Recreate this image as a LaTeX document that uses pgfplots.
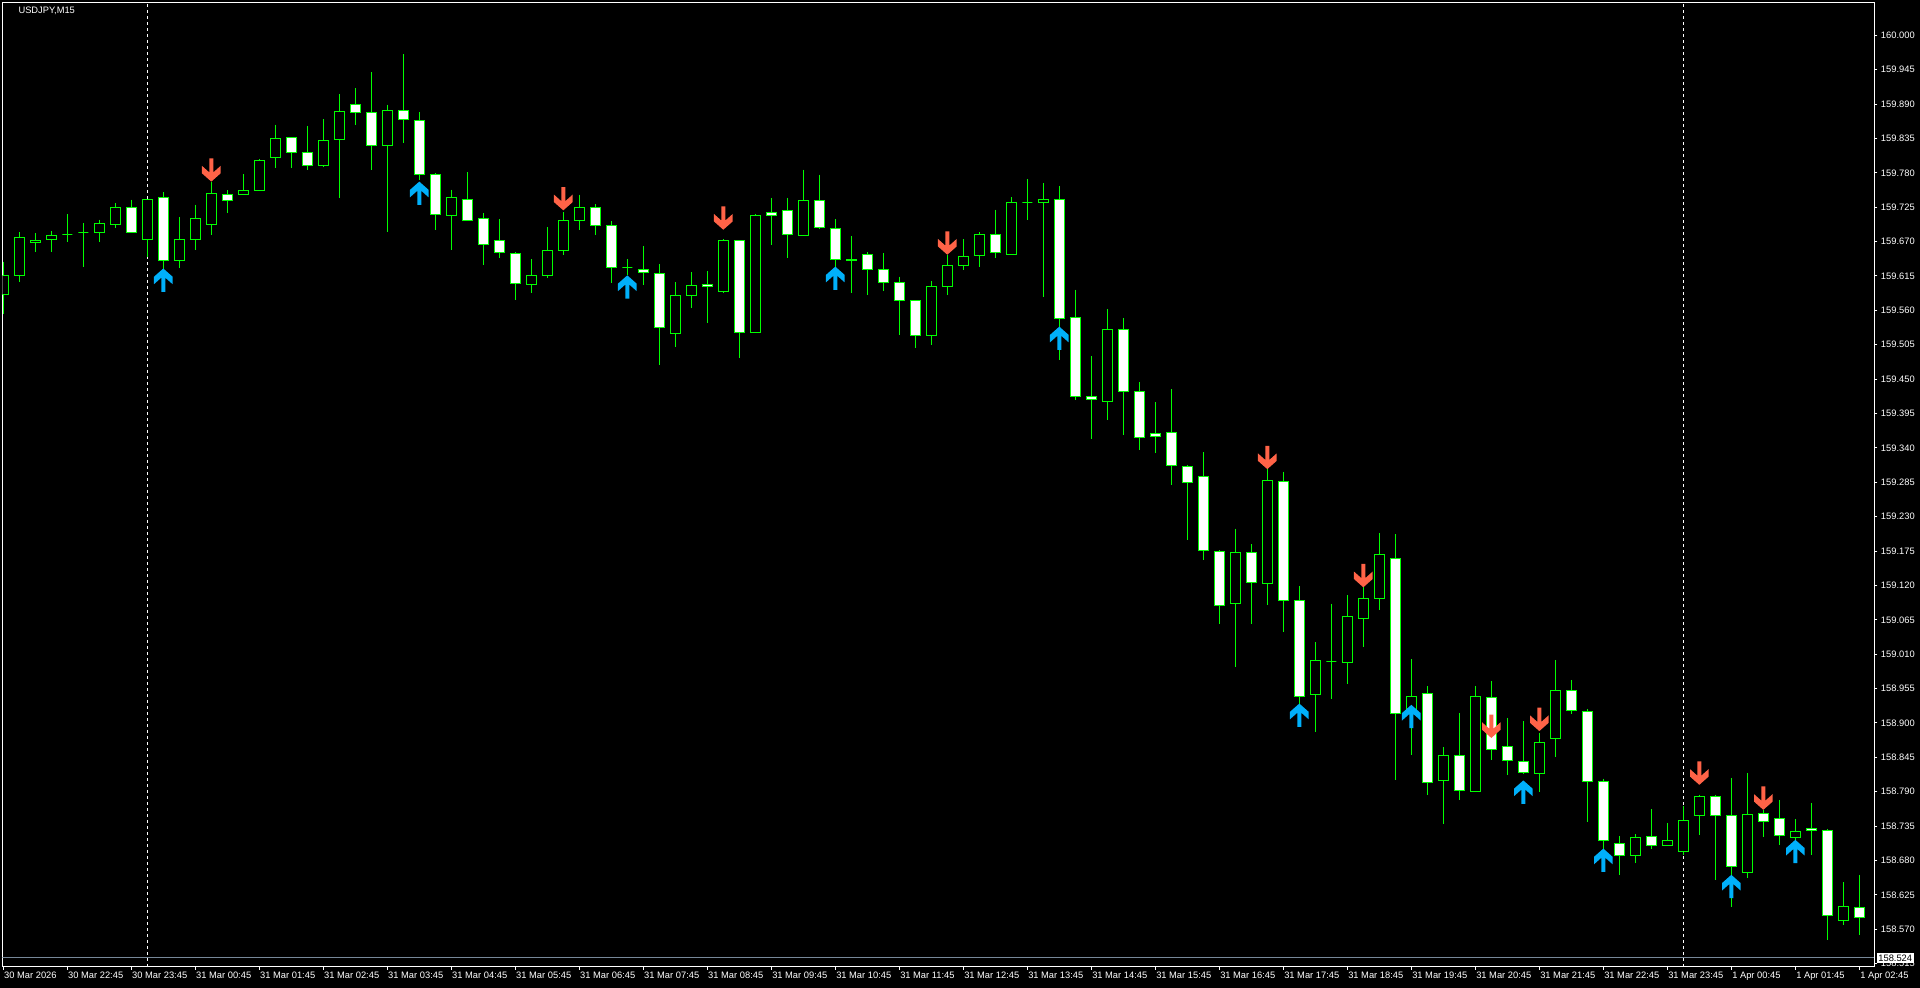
\documentclass[border=0pt]{standalone}
\usepackage{fontspec}
\setmainfont{Liberation Sans}
\usepackage{pgfplots}
\pgfplotsset{compat=1.18}
\usepackage{pgfplotstable}

\definecolor{candle}{RGB}{0,255,0}
\definecolor{arrred}{RGB}{255,99,71}
\definecolor{arrblue}{RGB}{0,176,250}
\definecolor{bidgray}{RGB}{119,136,153}

% down arrow, tip at the data point
\pgfdeclareplotmark{arrdn}{%
  \pgfpathmoveto{\pgfpoint{0pt}{0pt}}%
  \pgfpathlineto{\pgfpoint{7pt}{6.2pt}}%
  \pgfpathlineto{\pgfpoint{7pt}{11.8pt}}%
  \pgfpathlineto{\pgfpoint{1.5pt}{6.9pt}}%
  \pgfpathlineto{\pgfpoint{1.5pt}{17.5pt}}%
  \pgfpathlineto{\pgfpoint{-1.5pt}{17.5pt}}%
  \pgfpathlineto{\pgfpoint{-1.5pt}{6.9pt}}%
  \pgfpathlineto{\pgfpoint{-7pt}{11.8pt}}%
  \pgfpathlineto{\pgfpoint{-7pt}{6.2pt}}%
  \pgfpathclose\pgfusepathqfill}
% up arrow, tip at the data point
\pgfdeclareplotmark{arrup}{%
  \pgfpathmoveto{\pgfpoint{0pt}{0pt}}%
  \pgfpathlineto{\pgfpoint{7pt}{-6.2pt}}%
  \pgfpathlineto{\pgfpoint{7pt}{-11.8pt}}%
  \pgfpathlineto{\pgfpoint{1.5pt}{-6.9pt}}%
  \pgfpathlineto{\pgfpoint{1.5pt}{-17.5pt}}%
  \pgfpathlineto{\pgfpoint{-1.5pt}{-17.5pt}}%
  \pgfpathlineto{\pgfpoint{-1.5pt}{-6.9pt}}%
  \pgfpathlineto{\pgfpoint{-7pt}{-11.8pt}}%
  \pgfpathlineto{\pgfpoint{-7pt}{-6.2pt}}%
  \pgfpathclose\pgfusepathqfill}

% USDJPY M15, bar index from 30 Mar 21:45
\pgfplotstableread{
i o h l c
0 159.586 159.638 159.554 159.615
1 159.615 159.685 159.606 159.677
2 159.669 159.684 159.654 159.672
3 159.674 159.687 159.654 159.680
4 159.682 159.714 159.670 159.682
5 159.685 159.700 159.630 159.685
6 159.685 159.705 159.670 159.699
7 159.698 159.732 159.691 159.725
8 159.725 159.737 159.685 159.685
9 159.674 159.738 159.646 159.738
10 159.741 159.749 159.626 159.639
11 159.639 159.709 159.627 159.674
12 159.674 159.729 159.657 159.707
13 159.698 159.766 159.681 159.747
14 159.746 159.752 159.715 159.736
15 159.746 159.778 159.746 159.752
16 159.752 159.802 159.752 159.800
17 159.805 159.857 159.788 159.835
18 159.837 159.837 159.788 159.813
19 159.813 159.855 159.785 159.791
20 159.792 159.866 159.790 159.832
21 159.834 159.906 159.740 159.878
22 159.890 159.915 159.856 159.877
23 159.877 159.941 159.784 159.824
24 159.824 159.889 159.686 159.880
25 159.880 159.970 159.828 159.866
26 159.864 159.877 159.769 159.778
27 159.778 159.779 159.688 159.714
28 159.712 159.753 159.657 159.741
29 159.738 159.781 159.704 159.704
30 159.707 159.716 159.633 159.666
31 159.671 159.706 159.643 159.653
32 159.651 159.653 159.577 159.603
33 159.602 159.642 159.587 159.616
34 159.616 159.693 159.612 159.655
35 159.655 159.717 159.649 159.704
36 159.704 159.745 159.689 159.725
37 159.725 159.730 159.680 159.696
38 159.695 159.703 159.603 159.629
39 159.628 159.642 159.617 159.628
40 159.626 159.663 159.601 159.621
41 159.619 159.634 159.472 159.533
42 159.523 159.605 159.502 159.583
43 159.583 159.621 159.564 159.600
44 159.602 159.623 159.539 159.598
45 159.590 159.674 159.588 159.672
46 159.672 159.672 159.483 159.525
47 159.525 159.714 159.525 159.712
48 159.717 159.740 159.665 159.712
49 159.719 159.740 159.643 159.682
50 159.680 159.785 159.680 159.736
51 159.736 159.777 159.690 159.693
52 159.691 159.706 159.630 159.642
53 159.642 159.679 159.588 159.639
54 159.650 159.653 159.585 159.626
55 159.626 159.652 159.591 159.605
56 159.605 159.614 159.520 159.575
57 159.575 159.575 159.499 159.520
58 159.519 159.607 159.505 159.598
59 159.598 159.648 159.585 159.631
60 159.631 159.674 159.624 159.646
61 159.648 159.685 159.630 159.682
62 159.682 159.721 159.643 159.653
63 159.650 159.741 159.650 159.733
64 159.733 159.770 159.705 159.733
65 159.733 159.764 159.582 159.737
66 159.737 159.759 159.481 159.547
67 159.549 159.593 159.416 159.423
68 159.423 159.487 159.355 159.418
69 159.415 159.562 159.385 159.530
70 159.530 159.548 159.361 159.431
71 159.431 159.445 159.337 159.357
72 159.363 159.413 159.332 159.359
73 159.365 159.434 159.280 159.312
74 159.311 159.312 159.193 159.285
75 159.295 159.333 159.161 159.176
76 159.175 159.176 159.059 159.088
77 159.091 159.211 158.990 159.173
78 159.173 159.186 159.059 159.125
79 159.123 159.306 159.089 159.288
80 159.286 159.302 159.046 159.096
81 159.096 159.119 158.931 158.943
82 158.946 159.029 158.886 159.000
83 158.999 159.091 158.939 158.999
84 158.997 159.104 158.963 159.071
85 159.067 159.117 159.022 159.099
86 159.099 159.204 159.080 159.170
87 159.163 159.202 158.809 158.915
88 158.915 159.002 158.849 158.942
89 158.947 158.959 158.784 158.805
90 158.808 158.861 158.739 158.848
91 158.848 158.916 158.776 158.792
92 158.791 158.959 158.789 158.942
93 158.941 158.967 158.840 158.858
94 158.863 158.908 158.816 158.840
95 158.839 158.903 158.819 158.821
96 158.819 158.884 158.789 158.869
97 158.875 159.001 158.845 158.952
98 158.952 158.969 158.914 158.920
99 158.919 158.922 158.742 158.807
100 158.807 158.811 158.699 158.712
101 158.707 158.719 158.656 158.688
102 158.688 158.722 158.676 158.717
103 158.719 158.762 158.699 158.704
104 158.704 158.740 158.704 158.712
105 158.695 158.767 158.689 158.744
106 158.752 158.785 158.720 158.783
107 158.783 158.785 158.649 158.752
108 158.752 158.812 158.606 158.670
109 158.661 158.820 158.652 158.754
110 158.755 158.761 158.718 158.743
111 158.747 158.777 158.704 158.720
112 158.717 158.746 158.713 158.727
113 158.731 158.772 158.688 158.728
114 158.728 158.730 158.552 158.592
115 158.584 158.645 158.576 158.607
116 158.605 158.657 158.560 158.589
}\ohlc

\begin{document}
\begin{tikzpicture}
\fill[black] (0,0) rectangle (1440pt,741pt);
\path[use as bounding box] (0,0) rectangle (1440pt,741pt);
\begin{axis}[
    at={(1.875pt,16pt)}, anchor=south west,
    scale only axis, width=1403.9pt, height=723.3pt,
    xmin=-0.05, xmax=116.94,
    ymin=158.5101, ymax=160.0529,
    axis line style={white, line width=0.75pt},
    tick style={white, line width=0.75pt},
    tick align=outside, major tick length=2.25pt,
    xtick pos=left, ytick pos=right, yticklabel pos=right,
    xtick={0,4,...,116},
    xticklabels={30 Mar 2026,30 Mar 22:45,30 Mar 23:45,31 Mar 00:45,31 Mar 01:45,31 Mar 02:45,31 Mar 03:45,31 Mar 04:45,31 Mar 05:45,31 Mar 06:45,31 Mar 07:45,31 Mar 08:45,31 Mar 09:45,31 Mar 10:45,31 Mar 11:45,31 Mar 12:45,31 Mar 13:45,31 Mar 14:45,31 Mar 15:45,31 Mar 16:45,31 Mar 17:45,31 Mar 18:45,31 Mar 19:45,31 Mar 20:45,31 Mar 21:45,31 Mar 22:45,31 Mar 23:45,1 Apr 00:45,1 Apr 01:45,1 Apr 02:45},
    ytick={158.515,158.570,158.625,158.680,158.735,158.790,158.845,158.900,158.955,159.010,159.065,159.120,159.175,159.230,159.285,159.340,159.395,159.450,159.505,159.560,159.615,159.670,159.725,159.780,159.835,159.890,159.945,160.000},
    yticklabels={158.515,158.570,158.625,158.680,158.735,158.790,158.845,158.900,158.955,159.010,159.065,159.120,159.175,159.230,159.285,159.340,159.395,159.450,159.505,159.560,159.615,159.670,159.725,159.780,159.835,159.890,159.945,160.000},
    ticklabel style={white, font=\fontsize{7pt}{8pt}\selectfont, inner sep=0pt},
    xticklabel style={anchor=north west, xshift=0.5pt, yshift=-1.8pt},
    yticklabel style={anchor=west, xshift=2.5pt},
]
% day separators
\addplot[white, line width=0.75pt, dash pattern=on 2.25pt off 2.25pt] coordinates {(9,158.5101) (9,160.0529)};
\addplot[white, line width=0.75pt, dash pattern=on 2.25pt off 2.25pt] coordinates {(105,158.5101) (105,160.0529)};
% bid line
\addplot[bidgray, line width=0.75pt] coordinates {(-0.05,158.524) (116.94,158.524)};
\coordinate (bid) at (axis cs:116.94,158.524);

% candles
\pgfplotsinvokeforeach{0,...,116}{%
  \pgfplotstablegetelem{#1}{o}\of\ohlc \let\cO\pgfplotsretval
  \pgfplotstablegetelem{#1}{h}\of\ohlc \let\cH\pgfplotsretval
  \pgfplotstablegetelem{#1}{l}\of\ohlc \let\cL\pgfplotsretval
  \pgfplotstablegetelem{#1}{c}\of\ohlc \let\cC\pgfplotsretval
  \pgfmathsetmacro\xa{#1-0.3125}%
  \pgfmathsetmacro\xb{#1+0.3125}%
  \ifdim\cC pt<\cO pt \def\bfill{white}\else\def\bfill{black}\fi
  \edef\candlecmd{%
    \noexpand\addplot[candle, line width=0.75pt] coordinates {(#1,\cH) (#1,\cL)};
    \noexpand\addplot[draw=candle, fill=\bfill, line width=0.75pt] coordinates {(\xa,\cO) (\xb,\cO) (\xb,\cC) (\xa,\cC)} -- cycle;
  }%
  \candlecmd
}

% signal arrows
\addplot[only marks, mark=arrdn, color=arrred] coordinates {
(13,159.766) (35,159.720) (45,159.689) (59,159.649) (79,159.306)
(85,159.117) (93,158.876) (96,158.887) (106,158.801) (110,158.761)};
\addplot[only marks, mark=arrup, color=arrblue] coordinates {
(10,159.627) (26,159.766) (39,159.616) (52,159.630) (66,159.534) (81,158.931)
(88,158.929) (95,158.808) (100,158.699) (108,158.657) (112,158.713)};
\end{axis}
\node[anchor=west, fill=white, text=black, inner xsep=1.2pt, inner ysep=1.2pt,
      font=\fontsize{7pt}{8pt}\selectfont, xshift=1.6pt] at (bid) {158.524};
\node[anchor=west, text=white, inner sep=0pt, font=\fontsize{7pt}{8pt}\selectfont]
      at (13.7pt,733pt) {USDJPY,M15};
\end{tikzpicture}
\end{document}
